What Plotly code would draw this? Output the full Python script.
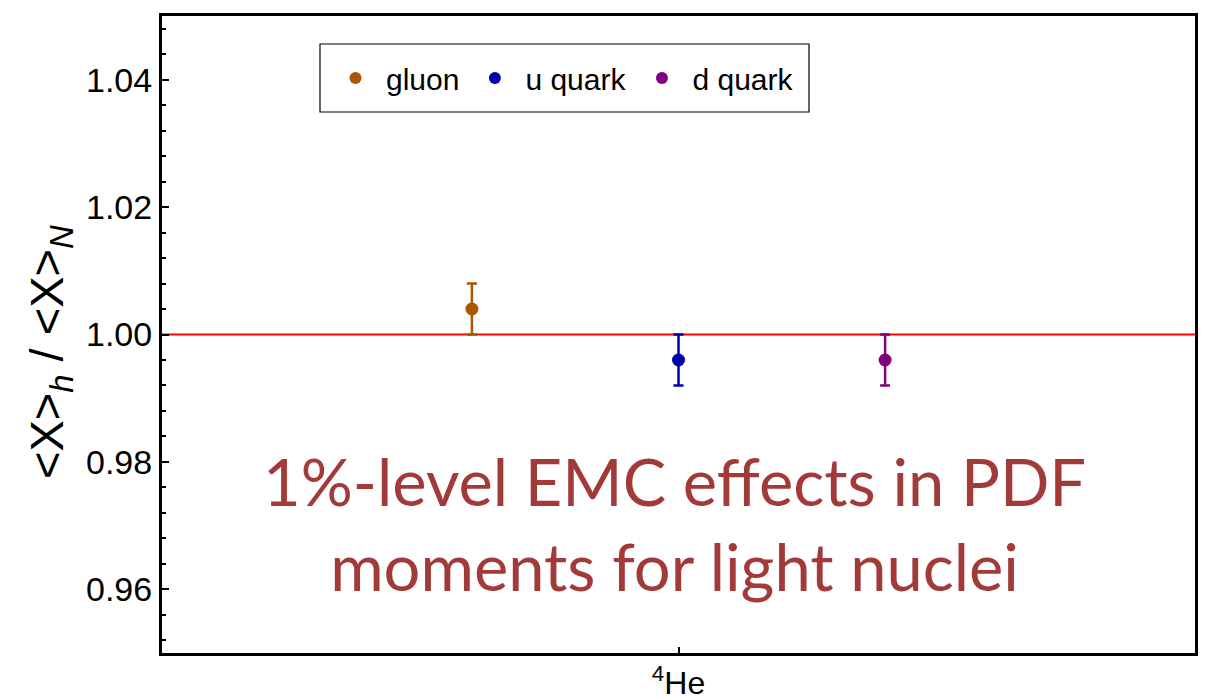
import plotly.graph_objects as go

# Data
series = ["gluon", "u quark", "d quark"]
x_pos = [-1.0, 0.0, 1.0]
values = [1.004, 0.996, 0.996]
errors = [0.004, 0.004, 0.004]
colors = ["#AA5500", "#0000AA", "#800080"]
ref_value = 1.0
x_tickvals = [0]
x_ticktext = ["<sup>4</sup>He"]
y_tickvals = [0.96, 0.98, 1.00, 1.02, 1.04]
y_ticktext = ["0.96", "0.98", "1.00", "1.02", "1.04"]
y_title = "&lt;X&gt;<sub><i>h</i></sub> / &lt;X&gt;<sub><i>N</i></sub>"

fig = go.Figure()

# reference line
fig.add_trace(go.Scatter(x=[-2.5, 2.5], y=[ref_value, ref_value], mode="lines",
                         line=dict(color="#FF0000", width=2), showlegend=False,
                         hoverinfo="skip"))

for name, xp, v, e, c in zip(series, x_pos, values, errors, colors):
    fig.add_trace(go.Scatter(
        x=[xp], y=[v], mode="markers", name=name,
        marker=dict(color=c, size=13),
        error_y=dict(type="data", array=[e], color=c, thickness=2.5, width=5),
    ))

fig.add_annotation(x=-0.017, y=0.9704, xref="x", yref="y",
                   text="1%-level EMC effects in PDF<br>moments for light nuclei",
                   showarrow=False,
                   font=dict(family="Lato", size=65, color="#A33A3A"))

# y-axis title
fig.add_annotation(x=(50 - 162) / 1033, y=(653 - 352) / 637, xref="paper", yref="paper",
                   text=y_title, textangle=-90, showarrow=False,
                   xanchor="center", yanchor="middle",
                   font=dict(size=47, color="black"))

# legend frame
fig.add_shape(type="rect", xref="paper", yref="paper",
              x0=(320 - 162) / 1033, x1=(809 - 162) / 1033,
              y0=(653 - 112) / 637, y1=(653 - 44) / 637,
              line=dict(color="black", width=1.2), fillcolor="rgba(0,0,0,0)", layer="above")

fig.update_layout(
    width=1209, height=697,
    margin=dict(l=162, r=14, t=16, b=44),
    paper_bgcolor="white", plot_bgcolor="white",
    font=dict(family="Liberation Sans, Arial", color="black"),
    legend=dict(orientation="h", x=(325 - 162) / 1033, y=(653 - 78) / 637,
                xanchor="left", yanchor="middle",
                borderwidth=0, bgcolor="rgba(0,0,0,0)",
                font=dict(size=30), itemwidth=51, itemsizing="constant"),
    xaxis=dict(range=[-2.5, 2.5], tickvals=x_tickvals, ticktext=x_ticktext,
               ticks="inside", ticklen=6, tickwidth=2, tickcolor="black",
               showline=True, linewidth=3, linecolor="black", mirror=True,
               showgrid=False, zeroline=False, tickfont=dict(size=32),
               automargin=False),
    yaxis=dict(range=[0.95, 1.05], tickvals=y_tickvals, ticktext=y_ticktext,
               ticks="inside", ticklen=7, tickwidth=2, tickcolor="black",
               minor=dict(dtick=0.004, tick0=0.96, ticks="inside", ticklen=4,
                          tickwidth=2, tickcolor="black", showgrid=False),
               showline=True, linewidth=3, linecolor="black", mirror=True,
               showgrid=False, zeroline=False, tickfont=dict(size=34),
               automargin=False),
)

fig.write_html("out.html")
